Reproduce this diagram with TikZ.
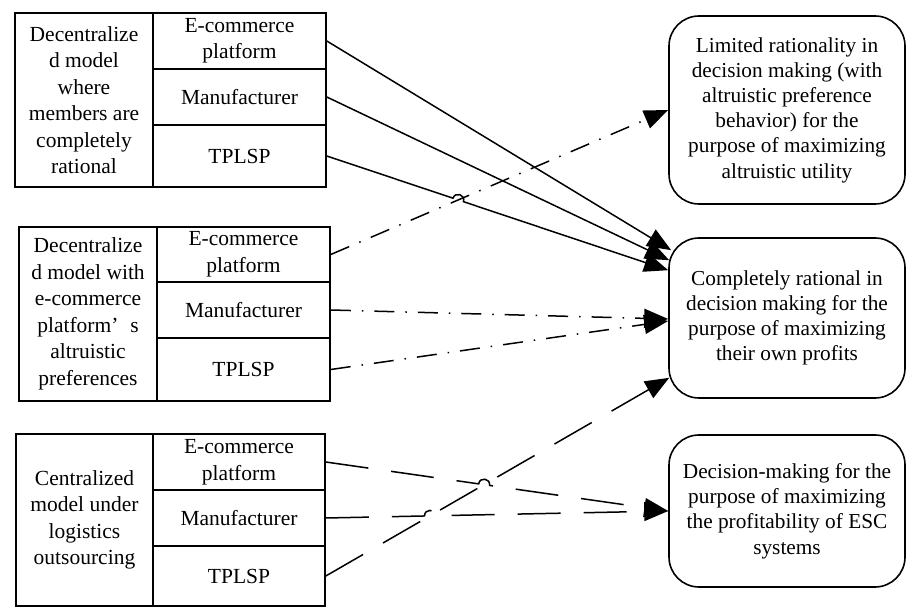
\documentclass[tikz,border=0pt]{standalone}
\usepackage{fontspec}
\setmainfont{Liberation Serif}
\usetikzlibrary{arrows.meta,calc}
\begin{document}
\begin{tikzpicture}[x=1pt,y=1pt,
  cellbox/.style={draw, line width=1.6pt, rectangle, inner sep=0pt, align=center,
    font=\fontsize{21.5}{26.5}\selectfont},
  rbox/.style={draw, line width=1.6pt, rectangle, rounded corners=30pt, inner sep=0pt,
    align=center, minimum width=236pt, font=\fontsize{21.3}{25.2}\selectfont},
  conn/.style={line width=1.5pt, -{Triangle[length=24pt,width=19pt]}},
  solidconn/.style={conn},
  dotconn/.style={conn, dash pattern=on 20pt off 11pt on 1.5pt off 11pt},
  longconn/.style={conn, dash pattern=on 43pt off 23pt},
  jump/.style={looseness=1.7}
]
\useasboundingbox (0,0) rectangle (907,608);

% Group 1
\node[cellbox, minimum width=138pt, minimum height=174pt] (g1) at (84,508)
  {Decentralize\\d model\\where\\members are\\completely\\rational};
\node[cellbox, minimum width=173pt, minimum height=56pt] (e1) at (239.5,567) {E-commerce\\platform};
\node[cellbox, minimum width=173pt, minimum height=56pt] (m1) at (239.5,511) {Manufacturer};
\node[cellbox, minimum width=173pt, minimum height=62pt] (t1) at (239.5,452) {TPLSP};

% Group 2
\node[cellbox, minimum width=138pt, minimum height=174pt] (g2) at (88,294)
  {Decentralize\\d model with\\e-commerce\\platform’\hspace{0.55em}s\\altruistic\\preferences};
\node[cellbox, minimum width=173pt, minimum height=55pt] (e2) at (243.5,353.5) {E-commerce\\platform};
\node[cellbox, minimum width=173pt, minimum height=56pt] (m2) at (243.5,298) {Manufacturer};
\node[cellbox, minimum width=173pt, minimum height=63pt] (t2) at (243.5,238.5) {TPLSP};

% Group 3
\node[cellbox, minimum width=137pt, minimum height=172pt] (g3) at (84.5,88)
  {Centralized\\model under\\logistics\\outsourcing};
\node[cellbox, minimum width=172pt, minimum height=56pt] (e3) at (239,146) {E-commerce\\platform};
\node[cellbox, minimum width=172pt, minimum height=56pt] (m3) at (239,90) {Manufacturer};
\node[cellbox, minimum width=172pt, minimum height=60pt] (t3) at (239,32) {TPLSP};

% Right boxes
\node[rbox, minimum height=188pt] (rb1) at (787,498)
  {Limited rationality in\\decision making (with\\altruistic preference\\behavior) for the\\purpose of maximizing\\altruistic utility};
\node[rbox, minimum height=160pt] (rb2) at (787,290)
  {Completely rational in\\decision making for the\\purpose of maximizing\\their own profits};
\node[rbox, minimum height=152pt] (rb3) at (787,97)
  {Decision-making for the\\purpose of maximizing\\the profitability of ESC\\systems};

% arrow end points
\coordinate (a1) at ($(rb2.north west)+(3,-13)$);
\coordinate (a2) at ($(rb2.north west)+(1,-23)$);
\coordinate (a3) at ($(rb2.north west)+(0,-33)$);
\coordinate (a4) at ($(rb2.west)+(0,-1)$);
\coordinate (a5) at ($(rb2.west)+(0,-3)$);
\coordinate (a6) at ($(rb2.south west)+(1,21)$);

% jump points
\coordinate (x1) at (intersection of t1.east--a3 and e2.east--rb1.west);
\coordinate (x2) at (intersection of e3.east--rb3.west and t3.east--a6);
\coordinate (x3) at (intersection of m3.east--rb3.west and t3.east--a6);

% Group 1 connectors
\draw[solidconn] (e1.east) -- (a1);
\draw[solidconn] (m1.east) -- (a2);
\draw[solidconn] (t1.east) -- ($(x1)!5.5pt!(t1.east)$)
  to[out=71.5,in=71.5,jump] ($(x1)!5.5pt!(a3)$) -- (a3);

% Group 2 connectors
\draw[dotconn] (e2.east) -- (rb1.west);
\draw[dotconn] (m2.east) -- (a4);
\draw[dotconn] (t2.east) -- (a5);

% Group 3 connectors
\draw[longconn] (e3.east) -- ($(x2)!5.5pt!(e3.east)$)
  to[out=81.9,in=81.9,jump] ($(x2)!5.5pt!(rb3.west)$) -- (rb3.west);
\draw[longconn] (m3.east) -- ($(x3)!5.5pt!(m3.east)$)
  to[out=91,in=91,jump] ($(x3)!5.5pt!(rb3.west)$) -- (rb3.west);
\draw[longconn] (t3.east) -- (a6);
\end{tikzpicture}
\end{document}
